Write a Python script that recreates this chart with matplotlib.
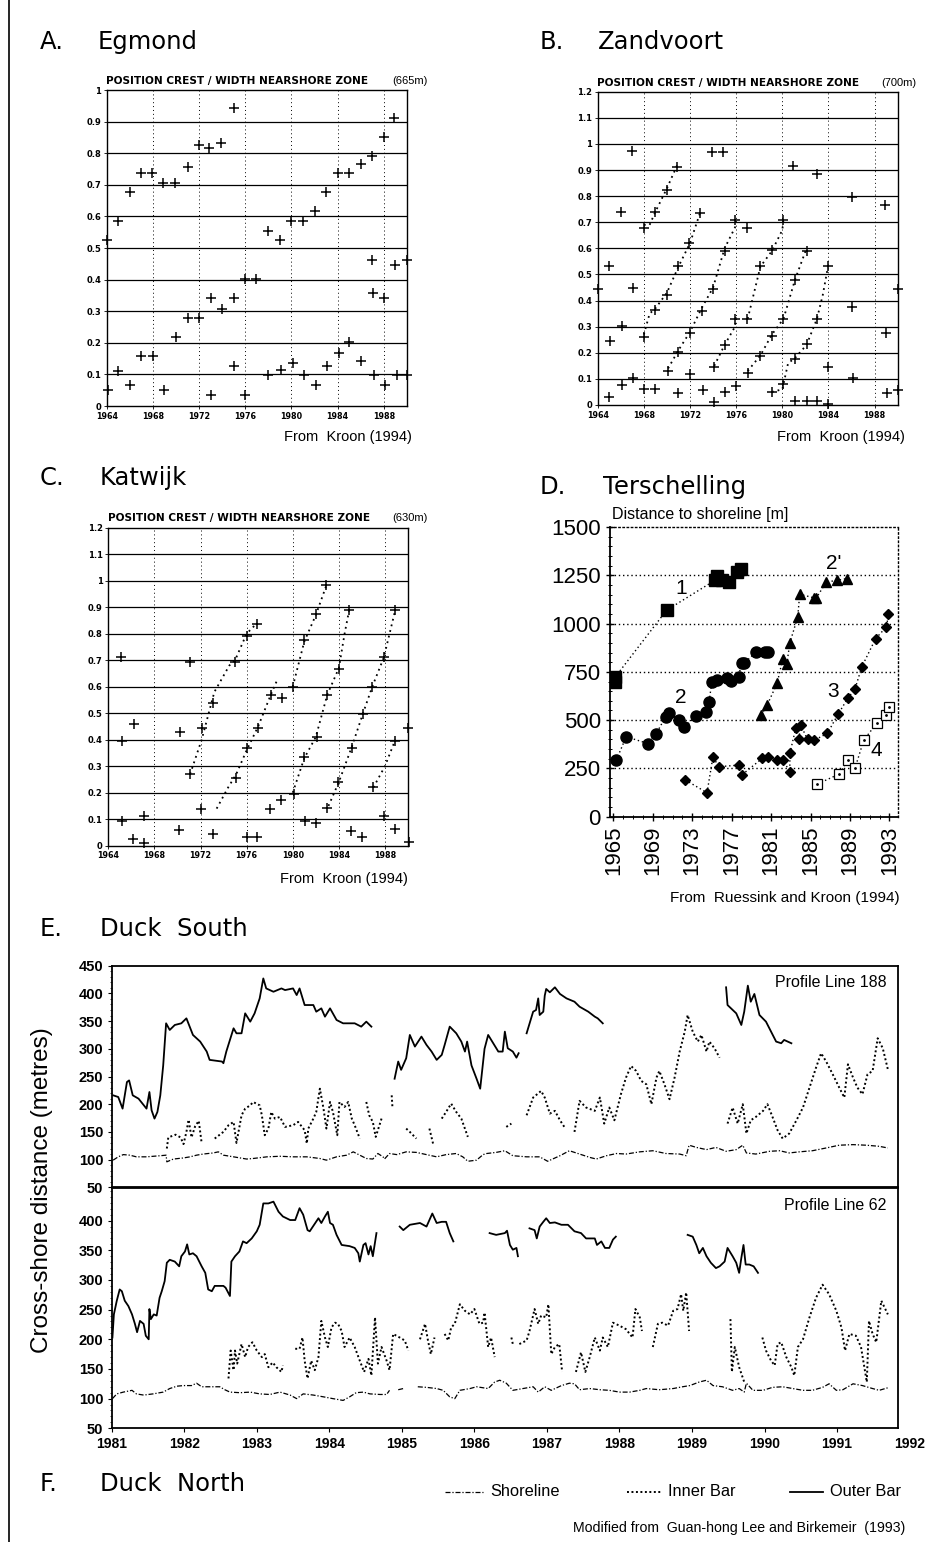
import numpy as np
import matplotlib
matplotlib.use("Agg")
import matplotlib.pyplot as plt
from matplotlib.lines import Line2D

plt.rcParams['font.family'] = ['Liberation Sans', 'DejaVu Sans']

W, H = 948, 1542

# ---------------- data ----------------
# A. Egmond  (position crest / width nearshore zone)
a_year = [1964.06, 1965.0, 1966.0, 1967.0, 1967.9, 1968.9, 1969.9, 1971.0, 1972.0, 1972.9, 1973.9, 1975.0,
          1976.0, 1976.9, 1978.0, 1979.0, 1980.0, 1981.0, 1982.0, 1983.0, 1984.0, 1985.0, 1986.0, 1987.0,
          1988.0, 1988.9, 1990.0, 1989.0, 1988.0, 1987.05, 1987.0,
          1964.1, 1965.0, 1966.0, 1967.0, 1968.0, 1969.0, 1970.0, 1971.0, 1972.0, 1973.0, 1973.0, 1974.0,
          1975.0, 1975.0, 1976.0, 1978.0, 1979.1, 1980.1, 1981.1, 1982.1, 1983.1, 1984.1, 1985.0, 1986.0,
          1987.1, 1988.1, 1989.1, 1990.0]
a_val = [0.525, 0.585, 0.676, 0.736, 0.736, 0.707, 0.707, 0.757, 0.825, 0.818, 0.833, 0.944,
         0.402, 0.402, 0.555, 0.525, 0.586, 0.586, 0.616, 0.676, 0.736, 0.736, 0.765, 0.792,
         0.852, 0.912, 0.462, 0.446, 0.341, 0.357, 0.462,
         0.051, 0.111, 0.066, 0.158, 0.158, 0.051, 0.217, 0.280, 0.280, 0.035, 0.341, 0.307,
         0.341, 0.128, 0.035, 0.098, 0.114, 0.135, 0.098, 0.066, 0.128, 0.167, 0.204, 0.143,
         0.098, 0.066, 0.098, 0.098]

# B. Zandvoort
b_year = [1964.06, 1965.0, 1965.0, 1965.1, 1966.0, 1966.1, 1966.1, 1967.0, 1967.1, 1967.1, 1968.0, 1968.0,
          1968.0, 1969.0, 1969.0, 1969.0, 1970.0, 1970.0, 1970.1, 1970.9, 1971.0, 1971.0, 1971.0, 1971.9,
          1972.0, 1972.0, 1972.9, 1973.0, 1973.1, 1973.9, 1974.0, 1974.1, 1974.1, 1974.9, 1975.0, 1975.0,
          1975.0, 1975.9, 1975.9, 1976.0, 1976.9, 1976.9, 1977.0, 1978.1, 1978.1, 1979.1, 1979.1, 1979.1,
          1980.1, 1980.1, 1980.1, 1980.9, 1981.1, 1981.1, 1981.1, 1982.1, 1982.1, 1982.1, 1983.0, 1983.0,
          1983.0, 1984.0, 1984.0, 1984.0, 1986.0, 1986.0, 1986.1, 1988.9, 1989.0, 1989.1, 1990.0, 1990.0]
b_val = [0.446, 0.532, 0.032, 0.246, 0.739, 0.303, 0.076, 0.972, 0.447, 0.102, 0.679, 0.261,
         0.061, 0.363, 0.739, 0.061, 0.825, 0.420, 0.129, 0.912, 0.532, 0.204, 0.045, 0.622,
         0.274, 0.118, 0.734, 0.360, 0.059, 0.968, 0.443, 0.146, 0.010, 0.968, 0.590, 0.229,
         0.048, 0.708, 0.331, 0.074, 0.679, 0.331, 0.121, 0.532, 0.189, 0.592, 0.265, 0.048,
         0.708, 0.331, 0.080, 0.915, 0.478, 0.176, 0.014, 0.590, 0.233, 0.017, 0.883, 0.331,
         0.017, 0.532, 0.146, 0.004, 0.796, 0.376, 0.102, 0.766, 0.274, 0.046, 0.446, 0.059]
b_trend_year = [
    [1968.0, 1968.5, 1969.0, 1970.0, 1970.9],
    [1968.0, 1968.5, 1969.0, 1970.0, 1971.0, 1972.0, 1972.9],
    [1970.1, 1971.0, 1972.0, 1973.0, 1974.0, 1975.0, 1975.9, 1976.0],
    [1974.1, 1975.0, 1975.9, 1976.0],
    [1977.0, 1978.1, 1979.1, 1980.1, 1981.1, 1982.1],
    [1977.0, 1978.1, 1979.1, 1980.0, 1980.1],
    [1979.1, 1980.0, 1980.5, 1981.1, 1982.1, 1983.0, 1983.5, 1984.0],
]
b_trend_val = [
    [0.69, 0.69, 0.74, 0.83, 0.92],
    [0.27, 0.35, 0.37, 0.43, 0.53, 0.62, 0.74],
    [0.14, 0.21, 0.28, 0.37, 0.45, 0.60, 0.68, 0.71],
    [0.15, 0.23, 0.30, 0.35],
    [0.13, 0.19, 0.27, 0.33, 0.48, 0.60],
    [0.33, 0.53, 0.59, 0.67, 0.71],
    [0.05, 0.06, 0.16, 0.18, 0.23, 0.33, 0.42, 0.54],
]

# C. Katwijk
c_year = [1965.1, 1965.2, 1965.15, 1966.2, 1967.1, 1966.1, 1967.1, 1970.2, 1970.1, 1971.1, 1971.1, 1972.1,
          1972.05, 1973.1, 1973.1, 1975.0, 1975.1, 1976.0, 1976.0, 1976.0, 1976.9, 1977.0, 1976.9, 1978.1,
          1978.05, 1979.1, 1979.0, 1980.0, 1980.1, 1981.0, 1981.0, 1981.1, 1982.0, 1982.1, 1982.0, 1982.9,
          1983.0, 1983.0, 1984.0, 1983.9, 1984.9, 1985.1, 1985.05, 1986.1, 1986.05, 1986.9, 1987.0, 1987.9,
          1987.9, 1988.9, 1988.9, 1988.9, 1990.0, 1990.05]
c_val = [0.711, 0.395, 0.095, 0.459, 0.112, 0.025, 0.012, 0.428, 0.058, 0.695, 0.271, 0.443,
         0.140, 0.540, 0.045, 0.695, 0.255, 0.793, 0.368, 0.032, 0.838, 0.446, 0.032, 0.569,
         0.140, 0.556, 0.174, 0.600, 0.196, 0.775, 0.336, 0.095, 0.874, 0.411, 0.086, 0.984,
         0.569, 0.144, 0.668, 0.239, 0.888, 0.368, 0.054, 0.496, 0.032, 0.600, 0.222, 0.711,
         0.112, 0.888, 0.395, 0.063, 0.443, 0.015]
c_trend_year = [
    [1971.1, 1972.1, 1973.2, 1974.5, 1975.0, 1976.0, 1976.9],
    [1973.4, 1974.4, 1975.1, 1976.0, 1977.0, 1978.1, 1978.6],
    [1980.0, 1981.0, 1982.0, 1982.9],
    [1980.0, 1981.0, 1982.0, 1983.0, 1984.0, 1984.5, 1984.9],
    [1983.1, 1984.0, 1985.1, 1986.1, 1986.9, 1987.9, 1988.9],
    [1987.0, 1988.0, 1988.9],
]
c_trend_val = [
    [0.27, 0.40, 0.58, 0.68, 0.70, 0.80, 0.84],
    [0.14, 0.22, 0.27, 0.36, 0.45, 0.57, 0.62],
    [0.60, 0.77, 0.87, 0.98],
    [0.20, 0.33, 0.41, 0.57, 0.67, 0.80, 0.89],
    [0.15, 0.24, 0.37, 0.50, 0.60, 0.71, 0.89],
    [0.22, 0.30, 0.40],
]

# D. Terschelling (distance to shoreline, m)
d1_year = [1965.2, 1965.2, 1970.4, 1975.3, 1975.5, 1976.0, 1976.7, 1977.5, 1977.9]
d1_dist = [698, 724, 1069, 1224, 1245, 1224, 1216, 1267, 1284]
d2_year = [1965.3, 1966.3, 1968.5, 1969.3, 1970.3, 1970.6, 1971.7, 1972.2, 1973.4, 1974.4, 1974.7,
           1975.0, 1975.5, 1976.5, 1976.9, 1977.7, 1978.0, 1978.3, 1979.5, 1980.4, 1980.7]
d2_dist = [293, 414, 379, 426, 517, 538, 500, 462, 522, 540, 595,
           698, 710, 716, 703, 724, 797, 797, 853, 853, 853]
d2b_year = [1980.0, 1980.6, 1981.6, 1982.2, 1982.6, 1982.9, 1983.7, 1983.9, 1985.3, 1985.6, 1986.6,
            1987.7, 1988.7]
d2b_dist = [526, 578, 690, 819, 793, 900, 1034, 1152, 1134, 1134, 1215, 1224, 1233]
d3_year = [1972.3, 1974.5, 1975.1, 1975.7, 1977.7, 1978.0, 1980.1, 1980.7, 1981.6, 1982.2, 1982.9,
           1982.9, 1983.5, 1983.8, 1984.0, 1984.7, 1985.4, 1986.7, 1987.8, 1988.8, 1989.5, 1990.2,
           1991.6, 1992.7, 1992.9]
d3_dist = [190, 124, 310, 259, 267, 215, 302, 310, 293, 293, 233,
           328, 457, 400, 474, 400, 397, 431, 531, 615, 660, 776,
           922, 983, 1048]
d4_year = [1985.7, 1987.9, 1988.8, 1989.5, 1990.4, 1991.7, 1992.7, 1993.0]
d4_dist = [169, 221, 293, 250, 397, 483, 526, 569]
d_labels = ["1", "2", "2'", "3", "4"]
d_label_year = [1971.9, 1971.8, 1987.3, 1987.3, 1991.7]
d_label_dist = [1181, 616, 1310, 646, 345]

# E/F. Duck, cross-shore distance (m); None = gap in the record
e188_outer = [
    (1981.02, 216), (1981.09, 213), (1981.15, 192), (1981.21, 240), (1981.24, 243), (1981.29, 216),
    (1981.37, 210), (1981.48, 192), (1981.52, 222), (1981.55, 189), (1981.59, 174), (1981.63, 186),
    (1981.67, 216), (1981.71, 270), (1981.75, 346), (1981.80, 334), (1981.87, 343), (1981.96, 346),
    (1982.03, 355), (1982.12, 325), (1982.22, 313), (1982.31, 295), (1982.35, 280), (1982.52, 277),
    (1982.54, 274), (1982.58, 295), (1982.68, 337), (1982.72, 328), (1982.79, 328), (1982.84, 364),
    (1982.91, 349), (1982.97, 364), (1983.04, 391), (1983.09, 427), (1983.13, 409), (1983.23, 403),
    (1983.34, 409), (1983.39, 406), (1983.50, 409), (1983.55, 397), (1983.59, 409), (1983.66, 379),
    (1983.78, 379), (1983.82, 367), (1983.89, 373), (1983.94, 358), (1984.01, 373), (1984.10, 352),
    (1984.19, 346), (1984.28, 346), (1984.35, 346), (1984.44, 340), (1984.51, 349), (1984.58, 340),
    None,
    (1984.90, 246), (1984.95, 277), (1984.99, 262), (1985.06, 283), (1985.11, 325), (1985.18, 304),
    (1985.27, 322), (1985.34, 307), (1985.41, 295), (1985.48, 280), (1985.55, 289), (1985.59, 307),
    (1985.66, 340), (1985.75, 328), (1985.82, 313), (1985.87, 295), (1985.90, 313), (1985.96, 270),
    (1986.03, 246), (1986.08, 228), (1986.14, 300), (1986.19, 325), (1986.26, 310), (1986.33, 295),
    (1986.39, 295), (1986.42, 331), (1986.46, 301), (1986.53, 295), (1986.58, 284), (1986.61, 292),
    None,
    (1986.72, 328), (1986.81, 367), (1986.85, 370), (1986.88, 391), (1986.90, 361), (1986.95, 367),
    (1986.97, 396), (1986.99, 408), (1987.04, 402), (1987.11, 411), (1987.18, 399), (1987.27, 391),
    (1987.38, 385), (1987.45, 376), (1987.57, 367), (1987.66, 358), (1987.70, 355), (1987.77, 346),
    None,
    (1989.47, 411), (1989.49, 379), (1989.61, 364), (1989.68, 343), (1989.72, 367), (1989.77, 414),
    (1989.81, 385), (1989.86, 399), (1989.93, 361), (1990.02, 349), (1990.09, 331), (1990.16, 313),
    (1990.23, 310), (1990.27, 316), (1990.37, 310),
]
e188_inner = [
    (1981.76, 120), (1981.78, 140), (1981.88, 145), (1981.95, 140), (1981.99, 128), (1982.03, 150),
    (1982.06, 172), (1982.10, 140), (1982.15, 160), (1982.20, 170), (1982.24, 130), None,
    (1982.42, 138), (1982.54, 150), (1982.61, 162), (1982.68, 168), (1982.72, 130), (1982.79, 180),
    (1982.84, 192), (1982.91, 198), (1982.95, 204), (1983.04, 198), (1983.07, 180), (1983.11, 144),
    (1983.16, 156), (1983.20, 186), (1983.25, 174), (1983.32, 177), (1983.39, 159), (1983.50, 162),
    (1983.57, 168), (1983.66, 153), (1983.69, 129), (1983.71, 156), (1983.78, 174), (1983.82, 186),
    (1983.87, 228), (1983.92, 192), (1983.96, 156), (1984.01, 204), (1984.05, 186), (1984.11, 144),
    (1984.14, 204), (1984.21, 195), (1984.26, 204), (1984.31, 174), (1984.35, 162), (1984.42, 138),
    None,
    (1984.51, 204), (1984.55, 180), (1984.60, 168), (1984.64, 141), (1984.72, 174), None,
    (1984.86, 216), (1984.87, 195), None,
    (1985.06, 156), (1985.11, 150), (1985.20, 138), None,
    (1985.38, 156), (1985.43, 129), None,
    (1985.55, 174), (1985.61, 186), (1985.68, 201), (1985.75, 186), (1985.82, 174), (1985.91, 141),
    None,
    (1986.44, 159), (1986.51, 165), None,
    (1986.72, 180), (1986.81, 212), (1986.92, 224), (1986.97, 212), (1987.04, 183), (1987.11, 188),
    (1987.18, 171), (1987.24, 159), None,
    (1987.38, 150), (1987.45, 206), (1987.54, 194), (1987.66, 188), (1987.73, 212), (1987.79, 165),
    (1987.86, 194), (1987.93, 171), (1988.02, 218), (1988.09, 248), (1988.16, 269), (1988.23, 260),
    (1988.30, 242), (1988.37, 236), (1988.44, 200), (1988.51, 248), (1988.55, 260), (1988.62, 236),
    (1988.69, 209), (1988.76, 248), (1988.83, 295), (1988.90, 331), (1988.94, 361), (1989.01, 331),
    (1989.08, 313), (1989.13, 325), (1989.20, 295), (1989.24, 313), (1989.31, 301), (1989.38, 284),
    None,
    (1989.49, 165), (1989.56, 194), (1989.63, 165), (1989.70, 200), (1989.75, 147), (1989.81, 171),
    (1989.88, 177), (1989.98, 188), (1990.04, 200), (1990.11, 177), (1990.18, 153), (1990.25, 138),
    (1990.34, 147), (1990.44, 171), (1990.53, 194), (1990.62, 230), (1990.71, 266), (1990.78, 292),
    (1990.85, 277), (1990.94, 254), (1991.03, 230), (1991.10, 212), (1991.15, 272), (1991.22, 248),
    (1991.28, 230), (1991.35, 218), (1991.42, 254), (1991.49, 260), (1991.56, 319), (1991.63, 301),
    (1991.70, 263),
]
e188_shore = [
    (1981.02, 99), (1981.09, 105), (1981.16, 109), (1981.25, 108), (1981.34, 105), (1981.48, 105),
    (1981.67, 107), (1981.75, 108), (1981.76, 96), (1981.85, 101), (1981.99, 103), (1982.08, 105),
    (1982.17, 108), (1982.26, 110), (1982.40, 112), (1982.47, 114), (1982.54, 108), (1982.68, 105),
    (1982.86, 101), (1982.95, 102), (1983.14, 105), (1983.32, 106), (1983.50, 105), (1983.69, 105),
    (1983.87, 102), (1983.96, 99), (1984.10, 105), (1984.24, 108), (1984.33, 114), (1984.42, 108),
    (1984.51, 102), (1984.60, 101), (1984.67, 111), (1984.74, 105), (1984.76, 101), (1984.83, 111),
    (1984.93, 109), (1985.06, 114), (1985.20, 113), (1985.34, 109), (1985.48, 105), (1985.61, 109),
    (1985.75, 111), (1985.84, 105), (1985.91, 97), (1986.03, 99), (1986.12, 109), (1986.17, 111),
    (1986.30, 113), (1986.42, 116), (1986.53, 107), (1986.72, 105), (1986.90, 105), (1987.01, 97),
    (1987.18, 107), (1987.31, 116), (1987.45, 110), (1987.59, 104), (1987.68, 101), (1987.82, 107),
    (1987.96, 111), (1988.09, 110), (1988.28, 114), (1988.46, 116), (1988.64, 111), (1988.83, 110),
    (1988.92, 107), (1988.96, 126), (1989.06, 122), (1989.20, 118), (1989.33, 122), (1989.47, 115),
    (1989.61, 118), (1989.70, 126), (1989.75, 112), (1989.88, 110), (1990.07, 115), (1990.21, 116),
    (1990.34, 112), (1990.48, 114), (1990.66, 116), (1990.85, 121), (1991.03, 126), (1991.22, 127),
    (1991.40, 126), (1991.58, 124), (1991.70, 121),
]
e62_outer = [
    (1981.01, 203), (1981.03, 242), (1981.07, 265), (1981.11, 284), (1981.14, 281), (1981.18, 265),
    (1981.23, 256), (1981.28, 242), (1981.32, 226), (1981.35, 212), (1981.39, 231), (1981.44, 226),
    (1981.47, 206), (1981.51, 200), (1981.52, 251), (1981.54, 234), (1981.58, 242), (1981.62, 240),
    (1981.66, 270), (1981.69, 281), (1981.73, 298), (1981.76, 329), (1981.80, 334), (1981.87, 331),
    (1981.93, 323), (1981.96, 340), (1982.01, 348), (1982.04, 360), (1982.07, 343), (1982.12, 345),
    (1982.17, 340), (1982.24, 323), (1982.29, 312), (1982.33, 284), (1982.38, 281), (1982.42, 290),
    (1982.48, 290), (1982.54, 290), (1982.57, 287), (1982.63, 273), (1982.65, 331), (1982.70, 340),
    (1982.76, 348), (1982.81, 365), (1982.86, 362), (1982.93, 370), (1983.00, 382), (1983.04, 393),
    (1983.09, 429), (1983.16, 429), (1983.23, 432), (1983.30, 415), (1983.36, 407), (1983.46, 401),
    (1983.53, 401), (1983.59, 421), (1983.64, 410), (1983.70, 384), (1983.73, 382), (1983.79, 393),
    (1983.85, 404), (1983.89, 396), (1983.94, 407), (1983.98, 415), (1984.01, 396), (1984.05, 393),
    (1984.10, 376), (1984.17, 359), (1984.28, 357), (1984.35, 354), (1984.40, 345), (1984.42, 331),
    (1984.47, 359), (1984.50, 362), (1984.54, 343), (1984.57, 357), (1984.60, 340), (1984.65, 379),
    None,
    (1984.97, 390), (1985.02, 384), (1985.11, 393), (1985.25, 396), (1985.34, 390), (1985.42, 412),
    (1985.48, 396), (1985.55, 398), (1985.61, 398), (1985.66, 379), (1985.71, 365), None,
    (1986.21, 379), (1986.30, 376), (1986.42, 379), (1986.45, 383), (1986.49, 359), (1986.53, 351),
    (1986.58, 354), (1986.60, 340), None,
    (1986.76, 387), (1986.83, 384), (1986.86, 370), (1986.90, 390), (1986.95, 398), (1986.99, 404),
    (1987.04, 396), (1987.11, 397), (1987.20, 393), (1987.29, 393), (1987.38, 382), (1987.47, 379),
    (1987.54, 370), (1987.66, 370), (1987.69, 359), (1987.75, 365), (1987.80, 354), (1987.86, 354),
    (1987.91, 368), (1987.95, 373), None,
    (1988.94, 376), (1989.01, 373), (1989.06, 359), (1989.10, 345), (1989.15, 354), (1989.20, 340),
    (1989.26, 329), (1989.33, 320), (1989.38, 323), (1989.45, 331), (1989.49, 354), (1989.56, 340),
    (1989.61, 329), (1989.65, 312), (1989.68, 337), (1989.71, 359), (1989.74, 326), (1989.79, 326),
    (1989.85, 323), (1989.91, 312),
]
e62_inner = [
    (1982.61, 134), (1982.64, 181), (1982.68, 148), (1982.70, 181), (1982.73, 159), (1982.79, 192),
    (1982.84, 170), (1982.88, 187), (1982.94, 195), (1983.00, 181), (1983.07, 170), (1983.11, 175),
    (1983.16, 153), (1983.22, 161), (1983.27, 153), (1983.34, 145), (1983.36, 156), None,
    (1983.53, 184), (1983.59, 184), (1983.63, 203), (1983.66, 164), (1983.70, 134), (1983.75, 164),
    (1983.80, 148), (1983.85, 170), (1983.89, 231), (1983.94, 203), (1983.98, 187), (1984.03, 220),
    (1984.08, 228), (1984.12, 226), (1984.17, 214), (1984.21, 187), (1984.28, 203), (1984.35, 187),
    (1984.42, 164), (1984.48, 145), (1984.54, 167), (1984.58, 139), (1984.63, 237), (1984.67, 159),
    (1984.72, 187), (1984.79, 164), (1984.83, 148), (1984.88, 209), (1984.97, 203), (1985.04, 198),
    (1985.09, 181), None,
    (1985.25, 200), (1985.32, 226), (1985.36, 198), (1985.40, 175), (1985.45, 203), None,
    (1985.59, 209), (1985.64, 198), (1985.68, 220), (1985.73, 226), (1985.80, 259), (1985.87, 248),
    (1985.94, 242), (1986.00, 251), (1986.07, 226), (1986.12, 228), (1986.14, 245), (1986.19, 187),
    (1986.23, 203), (1986.28, 170), None,
    (1986.51, 203), (1986.53, 192), None,
    (1986.62, 192), (1986.72, 198), (1986.76, 214), (1986.83, 251), (1986.88, 226), (1986.92, 240),
    (1986.99, 237), (1987.02, 259), (1987.06, 175), (1987.11, 187), (1987.17, 192), (1987.21, 145),
    None,
    (1987.40, 145), (1987.47, 178), (1987.53, 145), (1987.59, 170), (1987.66, 203), (1987.73, 181),
    (1987.77, 203), (1987.84, 187), (1987.91, 228), (1988.00, 223), (1988.09, 217), (1988.18, 203),
    (1988.22, 251), (1988.28, 237), (1988.31, 214), None,
    (1988.46, 187), (1988.53, 226), (1988.59, 228), (1988.67, 223), (1988.74, 248), (1988.80, 251),
    (1988.85, 276), (1988.88, 248), (1988.92, 279), (1988.96, 214), None,
    (1989.53, 234), (1989.55, 145), (1989.59, 187), (1989.65, 153), (1989.72, 128), None,
    (1989.97, 203), (1990.02, 181), (1990.09, 164), (1990.14, 156), (1990.18, 192), (1990.23, 195),
    (1990.30, 170), (1990.37, 153), (1990.41, 139), (1990.46, 187), (1990.53, 200), (1990.62, 237),
    (1990.71, 270), (1990.80, 292), (1990.89, 276), (1990.99, 248), (1991.06, 220), (1991.11, 181),
    (1991.17, 209), (1991.26, 206), (1991.33, 187), (1991.41, 128), (1991.44, 231), (1991.49, 209),
    (1991.54, 195), (1991.61, 265), (1991.70, 242),
]
e62_shore = [
    (1981.01, 100), (1981.07, 108), (1981.16, 111), (1981.28, 114), (1981.34, 108), (1981.44, 106),
    (1981.57, 108), (1981.71, 111), (1981.80, 117), (1981.90, 121), (1981.99, 122), (1982.10, 122),
    (1982.17, 126), (1982.24, 120), (1982.35, 120), (1982.49, 120), (1982.56, 115), (1982.63, 111),
    (1982.77, 110), (1982.91, 111), (1983.04, 108), (1983.18, 107), (1983.32, 111), (1983.46, 106),
    (1983.55, 100), (1983.64, 108), (1983.78, 106), (1983.92, 103), (1984.05, 100), (1984.19, 97),
    (1984.28, 103), (1984.37, 110), (1984.47, 111), (1984.56, 108), (1984.70, 107), (1984.79, 107),
    (1984.83, 114), None,
    (1984.95, 115), (1985.02, 117), None,
    (1985.22, 120), (1985.34, 119), (1985.48, 117), (1985.57, 114), (1985.66, 103), (1985.73, 100),
    (1985.80, 114), (1985.94, 117), (1986.03, 120), (1986.19, 117), (1986.28, 128), (1986.35, 131),
    (1986.44, 126), (1986.53, 114), (1986.67, 117), (1986.81, 120), (1986.88, 111), (1986.97, 120),
    (1987.06, 114), (1987.20, 122), (1987.31, 126), (1987.38, 125), (1987.45, 115), (1987.59, 117),
    (1987.73, 115), (1987.86, 114), (1988.00, 111), (1988.14, 111), (1988.28, 114), (1988.37, 117),
    (1988.55, 115), (1988.74, 117), (1988.87, 120), (1988.97, 122), (1989.10, 128), (1989.20, 131),
    (1989.29, 122), (1989.42, 120), (1989.56, 114), (1989.65, 117), (1989.72, 111), (1989.75, 126),
    (1989.84, 114), (1989.98, 114), (1990.11, 119), (1990.25, 120), (1990.39, 117), (1990.53, 114),
    (1990.66, 114), (1990.80, 119), (1990.89, 125), (1990.99, 114), (1991.08, 115), (1991.22, 125),
    (1991.35, 122), (1991.49, 117), (1991.58, 114), (1991.72, 119),
]

ratio_ticks = [0, 0.1, 0.2, 0.3, 0.4, 0.5, 0.6, 0.7, 0.8, 0.9, 1, 1.1, 1.2]
ratio_labels = ["0", "0.1", "0.2", "0.3", "0.4", "0.5", "0.6", "0.7", "0.8", "0.9", "1", "1.1", "1.2"]
kroon_xticks = [1964, 1968, 1972, 1976, 1980, 1984, 1988]
duck_years = list(range(1981, 1992))

TITLE = dict(fontsize=17.5, family="DejaVu Sans", va="center")
SMALLB = dict(family="DejaVu Sans", fontweight="bold")


# ---------------- helpers ----------------
def rect(l, t, r, b):
    return [l / W, 1 - b / H, (r - l) / W, (b - t) / H]


def ftext(x, y, s, **kw):
    return fig.text(x / W, 1 - y / H, s, **kw)


def unpack(pts):
    xs = [np.nan if p is None else p[0] for p in pts]
    ys = [np.nan if p is None else p[1] for p in pts]
    return xs, ys


def kroon_panel(ax, years, vals, ymax, trend_y=None, trend_v=None):
    n = int(round(ymax * 10)) + 1
    for v in ratio_ticks[1:n - 1]:
        ax.axhline(v, color="black", lw=0.9, zorder=1)
    for x in kroon_xticks[1:]:
        ax.axvline(x, color="black", lw=0.7, ls=(0, (1, 3)), zorder=1)
    if trend_y is not None:
        for ty, tv in zip(trend_y, trend_v):
            ax.plot(ty, tv, color="black", lw=1.3, ls=(0, (1, 2.2)), zorder=2)
    ax.plot(years, vals, ls="none", marker="+", ms=6.5, mew=1.1, color="black", zorder=3, clip_on=False)
    ax.set_yticks(ratio_ticks[:n])
    ax.set_yticklabels(ratio_labels[:n], fontsize=6, **SMALLB)
    ax.set_xticks(kroon_xticks)
    ax.set_xticklabels([str(y) for y in kroon_xticks], fontsize=5.8, **SMALLB)
    ax.set_xlim(1964, 1990)
    ax.set_ylim(0, ymax)
    ax.tick_params(length=2, width=0.6, pad=2)
    for s in ax.spines.values():
        s.set_linewidth(1.0)


fig = plt.figure(figsize=(W / 100, H / 100), dpi=100)
fig.add_artist(Line2D([9 / W, 9 / W], [0, 1], transform=fig.transFigure, color="black", lw=1.2))

# ---------------- A ----------------
axA = fig.add_axes(rect(106.7, 90, 407, 406))
kroon_panel(axA, a_year, a_val, 1.0)
ftext(40, 42, "A.", **TITLE)
ftext(98, 42, "Egmond", **TITLE)
ftext(106, 84, "POSITION CREST / WIDTH NEARSHORE ZONE", fontsize=7.6, va="baseline", **SMALLB)
ftext(428, 84, "(665m)", fontsize=8, ha="right", va="baseline")
ftext(412, 437, "From  Kroon (1994)", fontsize=10.5, ha="right", va="center")

# ---------------- B ----------------
axB = fig.add_axes(rect(597.7, 91.7, 897.7, 405))
kroon_panel(axB, b_year, b_val, 1.2, b_trend_year, b_trend_val)
ftext(540, 42, "B.", **TITLE)
ftext(598, 42, "Zandvoort", **TITLE)
ftext(597, 86, "POSITION CREST / WIDTH NEARSHORE ZONE", fontsize=7.6, va="baseline", **SMALLB)
ftext(916, 86, "(700m)", fontsize=8, ha="right", va="baseline")
ftext(905, 437, "From  Kroon (1994)", fontsize=10.5, ha="right", va="center")

# ---------------- C ----------------
axC = fig.add_axes(rect(108.3, 527.7, 408, 845.7))
kroon_panel(axC, c_year, c_val, 1.2, c_trend_year, c_trend_val)
ftext(40, 478, "C.", **TITLE)
ftext(100, 478, "Katwijk", **TITLE)
ftext(108, 521, "POSITION CREST / WIDTH NEARSHORE ZONE", fontsize=7.6, va="baseline", **SMALLB)
ftext(428, 521, "(630m)", fontsize=8, ha="right", va="baseline")
ftext(408, 879, "From  Kroon (1994)", fontsize=10.5, ha="right", va="center")

# ---------------- D ----------------
axD = fig.add_axes(rect(610, 527, 898.3, 816.7))
for v in [250, 500, 750, 1000, 1250]:
    axD.axhline(v, color="black", lw=1.0, ls=(0, (1, 2)), zorder=1)
dot = dict(color="black", lw=1.0, ls=(0, (1, 2)))
axD.plot(d1_year, d1_dist, marker="s", ms=8, mfc="black", mec="black", **dot)
axD.plot(d2_year, d2_dist, marker="o", ms=8, mfc="black", mec="black", **dot)
axD.plot(d2b_year, d2b_dist, marker="^", ms=7, mfc="black", mec="black", **dot)
axD.plot(d3_year, d3_dist, marker="D", ms=5, mfc="black", mec="black", **dot)
axD.plot(d4_year, d4_dist, marker="s", ms=7, mfc="white", mec="black", mew=0.9, **dot)
axD.plot(d4_year, d4_dist, ls="none", marker=".", ms=2, color="black")
for lab, x, y in zip(d_labels, d_label_year, d_label_dist):
    axD.text(x, y, lab, fontsize=15, ha="center", va="center")
axD.set_yticks([0, 250, 500, 750, 1000, 1250, 1500])
axD.set_yticks(np.arange(0, 1501, 50), minor=True)
axD.set_xticks(np.arange(1965, 1994, 4))
axD.set_xticks(np.arange(1965, 1994, 1), minor=True)
axD.set_xticklabels([str(y) for y in range(1965, 1994, 4)], rotation=90, fontsize=16)
axD.tick_params(axis="y", labelsize=16)
axD.tick_params(which="major", length=6, width=1.0, direction="inout")
axD.tick_params(which="minor", length=3, width=0.7, direction="inout")
axD.set_xlim(1964.66, 1993.9)
axD.set_ylim(0, 1500)
axD.spines["left"].set_linewidth(1.3)
axD.spines["bottom"].set_linewidth(1.3)
for s in ["top", "right"]:
    axD.spines[s].set_linestyle((0, (1, 2)))
    axD.spines[s].set_linewidth(1.0)
ftext(540, 487, "D.", **TITLE)
ftext(603, 487, "Terschelling", **TITLE)
ftext(612, 515, "Distance to shoreline [m]", fontsize=11.5, va="center")
ftext(900, 898, "From  Ruessink and Kroon (1994)", fontsize=11, ha="right", va="center")

# ---------------- E / F ----------------
outer_style = dict(color="black", lw=1.3, ls="-")
inner_style = dict(color="black", lw=1.4, ls=(0, (1, 1.3)))
shore_style = dict(color="black", lw=0.9, ls=(0, (4, 1.5, 1, 1.5)))

axE1 = fig.add_axes(rect(111.7, 965.7, 898, 1187.3))
axE2 = fig.add_axes(rect(111.7, 1188, 898, 1428.3))
panels = [(axE1, e188_outer, e188_inner, e188_shore, "Profile Line 188"),
          (axE2, e62_outer, e62_inner, e62_shore, "Profile Line 62")]
for ax, outer, inner, shore, name in panels:
    ax.plot(*unpack(outer), **outer_style)
    ax.plot(*unpack(inner), **inner_style)
    ax.plot(*unpack(shore), **shore_style)
    ax.set_xticks(duck_years)
    ax.set_yticks(np.arange(50, 451, 50))
    ax.set_yticks(np.arange(50, 451, 10), minor=True)
    ax.tick_params(which="major", length=3, width=0.8, labelsize=10.5, pad=3)
    ax.tick_params(which="minor", length=1.5, width=0.5)
    for lab in ax.get_yticklabels():
        lab.set_fontweight("bold")
    for s in ax.spines.values():
        s.set_linewidth(1.3)
    ax.text(0.985, 0.96, name, transform=ax.transAxes, ha="right", va="top", fontsize=11.5)
axE1.set_xticklabels([])
axE1.tick_params(axis="x", length=0)
axE2.set_yticks(np.arange(50, 401, 50))
axE2.set_yticklabels([str(v) for v in range(50, 401, 50)], fontweight="bold")
axE2.set_xticklabels([str(y) for y in duck_years], fontsize=10, fontweight="bold")
for ax in (axE1, axE2):
    ax.set_xlim(1981, 1991.84)
axE1.set_ylim(50, 450)
axE2.set_ylim(50, 455)
axE2.annotate("1992", xy=(1992, 0), xycoords=("data", "axes fraction"), xytext=(0, -6),
              textcoords="offset points", ha="center", va="top", fontsize=10, fontweight="bold",
              annotation_clip=False)
ftext(42, 1190, "Cross-shore distance (metres)", fontsize=17.5, rotation=90, ha="center", va="center")
ftext(40, 929, "E.", **TITLE)
ftext(100, 929, "Duck  South", **TITLE)
ftext(40, 1484, "F.", **TITLE)
ftext(100, 1484, "Duck  North", **TITLE)

# legend
leg_items = [("Shoreline", shore_style, 445, 483, 490),
             ("Inner Bar", inner_style, 627, 661, 668),
             ("Outer Bar", outer_style, 790, 823, 830)]
for name, st, x0, x1, xt in leg_items:
    fig.add_artist(Line2D([x0 / W, x1 / W], [1 - 1492 / H] * 2, transform=fig.transFigure, **st))
    ftext(xt, 1491, name, fontsize=11.8, va="center")
ftext(905, 1528, "Modified from  Guan-hong Lee and Birkemeir  (1993)", fontsize=10.2, ha="right", va="center")

fig.savefig("out.png", dpi=100)
